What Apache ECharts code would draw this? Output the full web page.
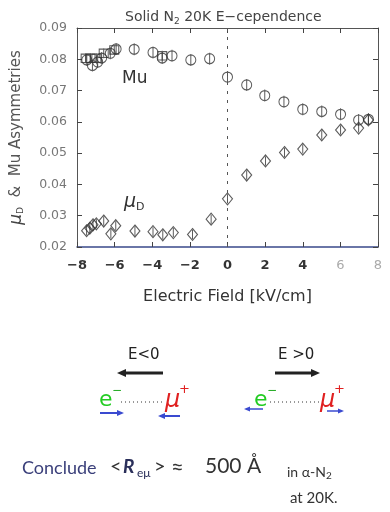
<!DOCTYPE html>
<html><head><meta charset="utf-8">
<script src="https://cdn.jsdelivr.net/npm/echarts@6/dist/echarts.min.js"></script>
<style>html,body{margin:0;padding:0;background:#fff}#c{width:390px;height:512px}</style>
</head><body><div id="c"></div>
<script>
// Mu asymmetry (circles with error bar)
var muCircX = [-7.48,-7.18,-6.9,-6.69,-6.23,-5.92,-4.96,-3.96,-3.47,-2.95,-1.95,-0.95,0,1.02,1.98,3.0,4.0,5.01,6.01,6.97,7.49];
var muCircY = [0.0798,0.0780,0.0791,0.0804,0.0819,0.0833,0.0832,0.0822,0.0804,0.0811,0.0798,0.0802,0.0743,0.0718,0.0684,0.0664,0.0640,0.0633,0.0624,0.0606,0.0608];
// Mu asymmetry (squares)
var muSqX = [-7.54,-7.28,-6.97,-6.58,-6.02,-3.47];
var muSqY = [0.0803,0.0803,0.0803,0.0819,0.0830,0.0811];
// muonium-D asymmetry (diamonds)
var dX = [-7.49,-7.32,-7.15,-6.97,-6.58,-6.2,-5.94,-4.92,-3.96,-3.44,-2.88,-1.86,-0.87,0,1.02,2.02,3.03,4.0,5.01,6.01,6.97,7.49];
var dY = [0.0252,0.0260,0.0271,0.0274,0.0283,0.0242,0.0268,0.0251,0.0249,0.0239,0.0246,0.0240,0.0289,0.0354,0.0430,0.0475,0.0502,0.0513,0.0558,0.0574,0.0580,0.0606];
var xTicks = [-8,-6,-4,-2,0,2,4,6,8];
var yTicks = [0.02,0.03,0.04,0.05,0.06,0.07,0.08,0.09];

function pairs(xs, ys){ return xs.map(function(x,i){return [x, ys[i]];}); }

var circSym = 'path://M5,1 A5,5 0 1 1 5,11 A5,5 0 1 1 5,1 Z M5,0 L5,12';
var diaSym = 'path://M5,0 L10,6 L5,12 L0,6 Z M5,1.5 L5,10.5';
var sqSym = 'path://M0,1 L10,1 L10,11 L0,11 Z M5,0 L5,12';
var mk = {color:'rgba(0,0,0,0)', borderColor:'#333', borderWidth:1.1};
var FF = 'DejaVu Sans';

var chart = echarts.init(document.getElementById('c'), null, {renderer:'canvas'});

function arrow(x1,y1,x2,y2,color,w,hl,hw){
  var dx=x2-x1, dy=y2-y1, L=Math.sqrt(dx*dx+dy*dy), ux=dx/L, uy=dy/L;
  var bx=x2-ux*hl, by=y2-uy*hl;
  return [
    {type:'line', shape:{x1:x1,y1:y1,x2:bx,y2:by}, style:{stroke:color,lineWidth:w}},
    {type:'polygon', shape:{points:[[x2,y2],[bx-uy*hw,by+ux*hw],[bx+uy*hw,by-ux*hw]]}, style:{fill:color}}
  ];
}
function txt(x,y,t,size,color,extra){
  var s = {text:t, x:x, y:y, fontSize:size, fill:color, fontFamily:FF, textVerticalAlign:'middle'};
  if (extra) for (var k in extra) s[k]=extra[k];
  return {type:'text', style:s};
}
var G = [];
// E<0 side
G.push(txt(128,355,'E<0',15,'#222'));
G = G.concat(arrow(163,373,117,373,'#222',3,9,4));
G.push(txt(99,400,'e',22,'#22cc22'));
G.push(txt(112,391,'−',12,'#22aa22'));
G.push({type:'line', shape:{x1:121,y1:402,x2:165,y2:402}, style:{stroke:'#333',lineWidth:1,lineDash:[1,3]}});
G.push(txt(165,401,'μ',24,'#e02020',{fontStyle:'italic'}));
G.push(txt(179,390,'+',13,'#e02020'));
G = G.concat(arrow(100,413,124,413,'#3a4ad0',2,7,3));
G = G.concat(arrow(180,416,158,416,'#3a4ad0',2,7,3));
// E>0 side
G.push(txt(278,355,'E >0',15,'#222'));
G = G.concat(arrow(275,373,320,373,'#222',3,9,4));
G.push(txt(254,400,'e',22,'#22cc22'));
G.push(txt(267,391,'−',12,'#22aa22'));
G.push({type:'line', shape:{x1:270,y1:402,x2:320,y2:402}, style:{stroke:'#333',lineWidth:1,lineDash:[1,3]}});
G.push(txt(320,401,'μ',24,'#e02020',{fontStyle:'italic'}));
G.push(txt(334,390,'+',13,'#e02020'));
G = G.concat(arrow(263,409,244,409,'#3a4ad0',1.5,6,2.5));
G = G.concat(arrow(327,411,344,411,'#3a4ad0',1.5,6,2.5));
// conclusion
G.push(txt(22,468,'Conclude',18,'#3a3f7a',{fontFamily:'Lato'}));
G.push(txt(110,467,'<',20,'#333',{fontFamily:'Lato'}));
G.push(txt(123,467,'R',19,'#2a2f5a',{fontFamily:'Lato',fontWeight:'bold',fontStyle:'italic'}));
G.push(txt(137,473,'eμ',12,'#2a2f5a',{fontFamily:'Lato'}));
G.push(txt(154,467,'>',20,'#333',{fontFamily:'Lato'}));
G.push(txt(171,467,'≈',22,'#333',{fontFamily:'Lato'}));
G.push(txt(205,466,'500 Å',21,'#333',{fontFamily:'Lato'}));
G.push(txt(287,472,'in α-N',14,'#333',{fontFamily:'Lato'}));
G.push(txt(326,476,'2',10,'#333',{fontFamily:'Lato'}));
G.push(txt(290,498,'at 20K.',15,'#333',{fontFamily:'Lato'}));
// in-plot labels
G.push(txt(122,79,'Mu',17,'#333'));
G.push(txt(124,202,'μ',19,'#333',{fontStyle:'italic'}));
G.push(txt(136,207,'D',11,'#333'));

var option = {
  animation:false,
  backgroundColor:'#fff',
  title:{ text:'{a|Solid N}{s|2}{a| 20K E−cependence}', left:120, top:4,
    textStyle:{ rich:{ a:{fontSize:14,color:'#444',fontFamily:FF,fontWeight:'normal'}, s:{fontSize:9,color:'#444',fontFamily:FF,fontWeight:'normal',padding:[8,0,0,0]} } } },
  grid:{left:73, right:12, top:28, bottom:265},
  xAxis:[{
    type:'value', min:-8, max:8, interval:2, position:'bottom',
    axisLine:{onZero:false, lineStyle:{color:'#3a4a8a',width:1.5}},
    axisTick:{inside:true,length:5,lineStyle:{color:'#444'}},
    splitLine:{show:false},
    axisLabel:{margin:12, formatter:function(v){
      var s = v<0 ? '−'+Math.abs(v) : String(v);
      return v>=6 ? '{l|'+s+'}' : '{d|'+s+'}'; },
      rich:{ d:{fontSize:13,color:'#333',fontFamily:FF,fontWeight:'bold'}, l:{fontSize:13,color:'#aaa',fontFamily:FF} } },
    name:'Electric Field [kV/cm]', nameLocation:'middle', nameGap:42,
    nameTextStyle:{fontSize:16,color:'#333',fontFamily:FF}
  },{
    type:'value', min:-8, max:8, interval:2, position:'top',
    axisLine:{onZero:false, lineStyle:{color:'#555'}},
    axisTick:{inside:true,length:5,lineStyle:{color:'#444'}},
    axisLabel:{show:false}, splitLine:{show:false}
  }],
  yAxis:[{
    type:'value', min:0.02, max:0.09, interval:0.01, position:'left',
    axisLine:{show:true,onZero:false,lineStyle:{color:'#555'}},
    axisTick:{show:true,inside:true,length:5,lineStyle:{color:'#444'}},
    splitLine:{show:false},
    axisLabel:{margin:10, fontSize:12.5, color:'#777', fontFamily:FF, formatter:function(v){return v.toFixed(2);}},
    name:'{m|μ}{s|D}{n|  &  Mu Asymmetries}', nameLocation:'middle', nameGap:52, nameRotate:90,
    nameTextStyle:{ rich:{ m:{fontSize:17,color:'#444',fontFamily:FF,fontStyle:'italic'}, s:{fontSize:9,color:'#444',fontFamily:FF,padding:[8,0,0,0]}, n:{fontSize:15,color:'#555',fontFamily:FF} } }
  },{
    type:'value', min:0.02, max:0.09, interval:0.01, position:'right',
    axisLine:{show:true,onZero:false,lineStyle:{color:'#555'}},
    axisTick:{show:true,inside:true,length:5,lineStyle:{color:'#444'}},
    axisLabel:{show:false}, splitLine:{show:false}
  }],
  series:[
    {type:'scatter', name:'Mu', data:pairs(muCircX,muCircY), symbol:circSym, symbolSize:[10,12], itemStyle:mk, z:3,
     markLine:{silent:true, symbol:'none', label:{show:false}, lineStyle:{color:'#555',type:[3,6],width:1},
       data:[{xAxis:0}]}},
    {type:'scatter', name:'Mu sq', data:pairs(muSqX,muSqY), symbol:sqSym, symbolSize:[9,10], itemStyle:mk},
    {type:'scatter', name:'muD', data:pairs(dX,dY), symbol:diaSym, symbolSize:[10,12], itemStyle:mk}
  ],
  graphic:G
};
chart.setOption(option);
</script>
</body></html>
